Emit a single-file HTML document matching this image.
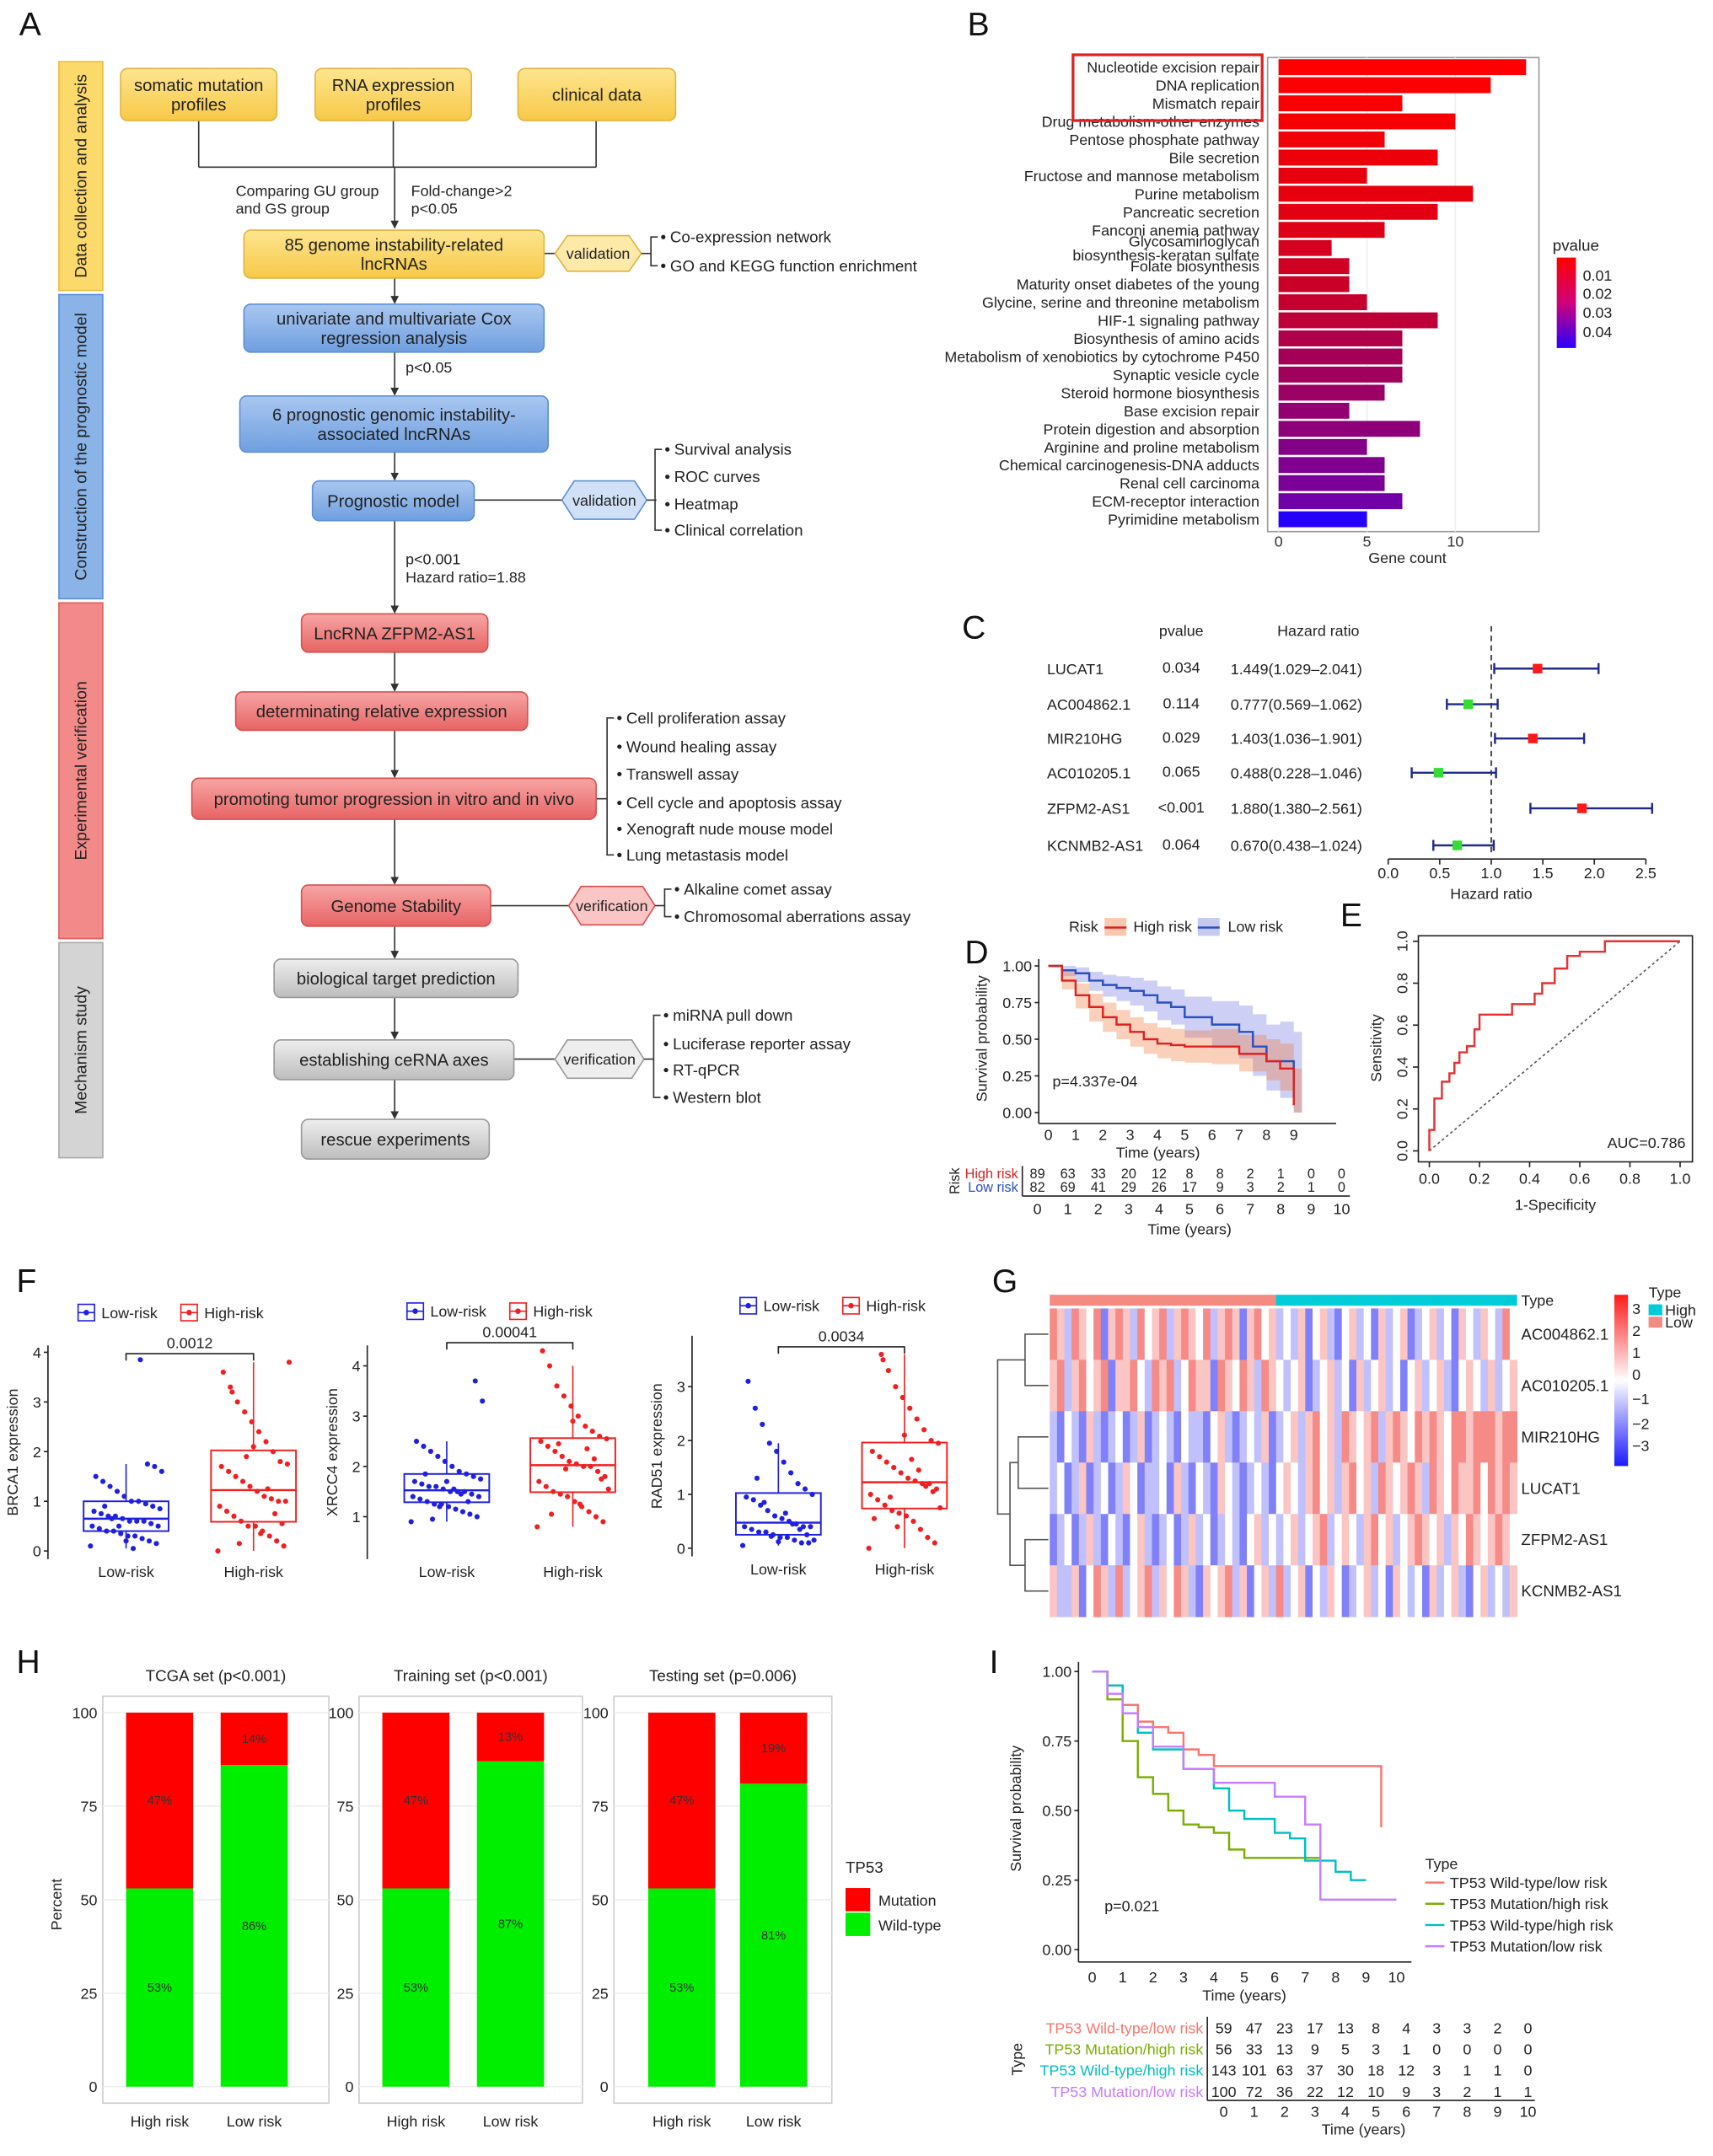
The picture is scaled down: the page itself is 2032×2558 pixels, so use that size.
<!DOCTYPE html>
<html><head><meta charset="utf-8"><title>Figure</title>
<style>
html,body{margin:0;padding:0;background:#fff;}
svg{display:block;font-family:"Liberation Sans",Arial,sans-serif;}
</style></head>
<body>
<svg id="fig" xmlns="http://www.w3.org/2000/svg" width="2032" height="2558" viewBox="0 0 1250 1573.6" preserveAspectRatio="none">
<defs>
<linearGradient id="gy" x1="0" y1="0" x2="0" y2="1"><stop offset="0" stop-color="#fde58f"/><stop offset="1" stop-color="#f7c948"/></linearGradient>
<linearGradient id="gb" x1="0" y1="0" x2="0" y2="1"><stop offset="0" stop-color="#a9c7f0"/><stop offset="1" stop-color="#6f9fe0"/></linearGradient>
<linearGradient id="gr" x1="0" y1="0" x2="0" y2="1"><stop offset="0" stop-color="#f7a5a5"/><stop offset="1" stop-color="#e86464"/></linearGradient>
<linearGradient id="gg" x1="0" y1="0" x2="0" y2="1"><stop offset="0" stop-color="#eeeeee"/><stop offset="1" stop-color="#bdbdbd"/></linearGradient>
<linearGradient id="pvgrad" x1="0" y1="0" x2="0" y2="1"><stop offset="0" stop-color="#ff0000"/><stop offset="0.5" stop-color="#d0007a"/><stop offset="1" stop-color="#2a00ff"/></linearGradient>
<linearGradient id="hmgrad" x1="0" y1="0" x2="0" y2="1"><stop offset="0" stop-color="#ff1a1a"/><stop offset="0.5" stop-color="#ffffff"/><stop offset="1" stop-color="#1a1aff"/></linearGradient>
<marker id="arr" markerWidth="6" markerHeight="6" refX="5" refY="3" orient="auto"><path d="M0,0 L6,3 L0,6 z" fill="#333"/></marker>
</defs>
</svg>
<script>
// ---------- DATA ----------
const keggCats = ["Nucleotide excision repair","DNA replication","Mismatch repair","Drug metabolism-other enzymes","Pentose phosphate pathway","Bile secretion","Fructose and mannose metabolism","Purine metabolism","Pancreatic secretion","Fanconi anemia pathway","Glycosaminoglycan|biosynthesis-keratan sulfate","Folate biosynthesis","Maturity onset diabetes of the young","Glycine, serine and threonine metabolism","HIF-1 signaling pathway","Biosynthesis of amino acids","Metabolism of xenobiotics by cytochrome P450","Synaptic vesicle cycle","Steroid hormone biosynthesis","Base excision repair","Protein digestion and absorption","Arginine and proline metabolism","Chemical carcinogenesis-DNA adducts","Renal cell carcinoma","ECM-receptor interaction","Pyrimidine metabolism"];
const keggCounts = [14,12,7,10,6,9,5,11,9,6,3,4,4,5,9,7,7,7,6,4,8,5,6,6,7,5];
const keggPvals = [0.002,0.003,0.003,0.004,0.005,0.006,0.007,0.007,0.008,0.009,0.011,0.012,0.013,0.014,0.016,0.019,0.021,0.022,0.023,0.025,0.026,0.028,0.029,0.030,0.032,0.048];
const keggTicks = [0,5,10];

const coxGenes = ["LUCAT1","AC004862.1","MIR210HG","AC010205.1","ZFPM2-AS1","KCNMB2-AS1"];
const coxPtxt = ["0.034","0.114","0.029","0.065","<0.001","0.064"];
const coxHR = [1.449,0.777,1.403,0.488,1.880,0.670];
const coxLo = [1.029,0.569,1.036,0.228,1.380,0.438];
const coxHi = [2.041,1.062,1.901,1.046,2.561,1.024];
const coxTicks = [0,0.5,1,1.5,2,2.5];

const kmHighT = [0,0.5,1,1.5,2,2.5,3,3.5,4,4.5,5,6,7,8,8.5,9];
const kmHighS = [1,0.9,0.8,0.72,0.65,0.6,0.55,0.5,0.47,0.46,0.45,0.45,0.4,0.35,0.3,0.05];
const kmHighUp = [1,0.96,0.88,0.81,0.75,0.7,0.65,0.61,0.58,0.57,0.56,0.57,0.53,0.5,0.47,0.3];
const kmHighLo = [1,0.84,0.71,0.62,0.55,0.5,0.45,0.4,0.37,0.35,0.34,0.33,0.28,0.22,0.15,0.0];
const kmLowT = [0,0.5,1,1.5,2,2.5,3,3.5,4,4.5,5,6,7,7.5,8,8.5,9];
const kmLowS = [1,0.97,0.95,0.9,0.87,0.85,0.83,0.8,0.75,0.72,0.65,0.6,0.55,0.45,0.35,0.35,0.2];
const kmLowUp = [1,1,0.99,0.96,0.94,0.93,0.92,0.9,0.86,0.84,0.79,0.76,0.73,0.67,0.6,0.62,0.55];
const kmLowLo = [1,0.93,0.89,0.83,0.79,0.76,0.73,0.69,0.63,0.6,0.51,0.44,0.37,0.25,0.15,0.1,0.0];
const riskHigh = [89,63,33,20,12,8,8,2,1,0,0];
const riskLow = [82,69,41,29,26,17,9,3,2,1,0];

const rocFpr = [0,0,0.02,0.02,0.05,0.05,0.08,0.1,0.12,0.15,0.18,0.2,0.3,0.33,0.42,0.45,0.5,0.55,0.6,0.7,1];
const rocTpr = [0,0.1,0.12,0.25,0.28,0.33,0.37,0.42,0.47,0.5,0.58,0.65,0.65,0.7,0.75,0.8,0.87,0.93,0.95,1,1];

const brcaLow = [0.1,0.15,0.2,0.25,0.3,0.3,0.35,0.4,0.4,0.45,0.5,0.5,0.55,0.6,0.6,0.6,0.65,0.7,0.7,0.75,0.8,0.85,0.9,0.95,1.0,1.0,1.1,1.2,1.3,1.4,1.5,1.6,1.7,1.75,3.85,0.05,0.2,0.5,0.65,0.9];
const brcaHigh = [0.0,0.1,0.2,0.3,0.4,0.5,0.5,0.6,0.7,0.8,0.9,1.0,1.0,1.05,1.1,1.2,1.3,1.4,1.5,1.6,1.7,1.75,1.8,2.0,2.2,2.4,2.6,2.8,3.0,3.3,3.6,3.8,0.55,0.75,1.25,0.35,2.1,1.9,0.15,3.2];
const xrccLow = [0.9,1.0,1.05,1.1,1.15,1.2,1.25,1.25,1.3,1.35,1.4,1.4,1.45,1.5,1.5,1.5,1.55,1.6,1.6,1.65,1.7,1.75,1.8,1.85,1.9,2.0,2.1,2.2,2.3,2.4,2.5,3.3,3.7,1.3,1.45,1.55,1.7,1.2,0.95,1.85];
const xrccHigh = [0.8,0.9,1.0,1.1,1.2,1.3,1.4,1.45,1.5,1.6,1.7,1.8,1.9,2.0,2.0,2.05,2.1,2.2,2.3,2.4,2.5,2.55,2.6,2.7,2.8,3.0,3.2,3.4,3.6,4.0,4.3,1.55,1.75,2.15,2.35,1.25,2.9,1.95,2.45,1.05];
const radLow = [0.05,0.1,0.1,0.15,0.2,0.2,0.25,0.3,0.3,0.35,0.4,0.4,0.4,0.45,0.5,0.55,0.6,0.7,0.8,0.9,0.95,1.0,1.1,1.2,1.4,1.6,1.8,1.95,2.3,2.6,3.1,0.15,0.25,0.35,0.45,0.65,0.12,0.22,0.85,1.3];
const radHigh = [0.0,0.1,0.2,0.35,0.5,0.6,0.65,0.7,0.8,0.9,1.0,1.1,1.2,1.2,1.25,1.3,1.4,1.5,1.6,1.7,1.8,1.95,2.0,2.2,2.4,2.6,2.8,3.0,3.3,3.6,0.55,0.75,1.05,1.15,1.45,1.65,2.1,0.4,0.95,3.5];

const hmGenes = ["AC004862.1","AC010205.1","MIR210HG","LUCAT1","ZFPM2-AS1","KCNMB2-AS1"];
const hmRow1 = [2,1,-1,2,1,0,2,-2,1,2,1,-1,2,0,1,2,-1,1,2,1,0,2,-1,1,2,1,-2,1,2,0,1,-1,0,-1,1,-2,0,1,-1,-2,0,1,-1,0,-2,1,-1,0,1,-2,-1,0,1,-1,0,-2,1,0,-1,1,0,-1,2,0];
const hmRow2 = [1,2,-1,1,2,0,1,2,-2,1,1,2,0,-1,2,1,2,-1,0,2,1,1,-2,2,1,0,2,1,-1,2,1,0,-1,0,1,-2,-1,0,1,-1,0,-2,1,-1,0,1,-1,0,-2,0,1,-1,0,1,-1,-2,0,1,0,-1,1,-1,0,1];
const hmRow3 = [-1,-2,0,-1,-2,1,-1,-2,-1,0,-2,-1,1,-2,-1,0,-1,-2,0,-1,-1,-2,0,1,-1,-2,-1,0,-1,1,-2,-1,0,1,-1,1,2,0,1,-1,2,1,0,1,2,-1,1,2,1,0,2,1,2,1,0,2,2,1,2,2,2,1,2,2];
const hmRow4 = [-1,0,-2,-1,1,-2,-1,0,-2,-1,1,0,-2,-1,-1,0,-2,1,-1,-2,0,-1,-2,1,0,-1,-2,-1,0,-1,-2,0,1,0,-1,1,2,0,1,-1,1,2,0,1,-1,2,1,0,1,2,1,-1,2,1,0,2,1,1,2,0,2,1,2,1];
const hmRow5 = [-2,-1,0,-2,-1,1,-1,-2,0,-1,-2,0,1,-1,-2,-1,0,-2,-1,1,-1,0,-2,-1,0,-1,-2,0,1,-1,0,-1,0,1,-1,0,1,2,-1,0,1,0,-1,1,2,0,1,-1,0,1,2,1,0,1,-1,1,0,2,1,0,1,2,1,0];
const hmRow6 = [1,-1,-1,1,-2,0,2,1,-1,2,-1,0,1,2,-1,1,0,2,1,-1,-2,1,0,1,2,-1,1,-2,0,1,-1,2,-1,0,1,-2,0,-1,1,0,-2,-1,0,1,-1,0,-2,1,0,-1,0,-2,1,-1,0,1,-1,-2,0,1,-1,0,-1,1];

const tp53Sets = ["TCGA set (p<0.001)","Training set (p<0.001)","Testing set (p=0.006)"];
const tp53MutHigh = [47,47,47];
const tp53MutLow = [14,13,19];
const pctTicks = [0,25,50,75,100];

const iWLT = [0,0.5,1,1.5,2,2.5,3,3.5,4,9,9.5];
const iWLS = [1,0.95,0.88,0.82,0.8,0.78,0.72,0.7,0.66,0.66,0.44];
const iMHT = [0,0.5,1,1.5,2,2.5,3,3.5,4,4.5,5,6,7,7.5];
const iMHS = [1,0.9,0.75,0.62,0.56,0.5,0.45,0.44,0.42,0.36,0.33,0.33,0.33,0.33];
const iWHT = [0,0.5,1,1.5,2,3,4,4.5,5,6,6.5,7,8,8.5,9];
const iWHS = [1,0.95,0.85,0.78,0.72,0.65,0.58,0.5,0.47,0.42,0.4,0.32,0.28,0.25,0.25];
const iMLT = [0,0.5,1,1.5,2,3,4,5,6,7,7.5,9,10];
const iMLS = [1,0.92,0.85,0.8,0.73,0.65,0.6,0.6,0.55,0.45,0.18,0.18,0.18];
const iRiskWL = [59,47,23,17,13,8,4,3,3,2,0];
const iRiskMH = [56,33,13,9,5,3,1,0,0,0,0];
const iRiskWH = [143,101,63,37,30,18,12,3,1,1,0];
const iRiskML = [100,72,36,22,12,10,9,3,2,1,1];

// ---------- HELPERS ----------
const NS='http://www.w3.org/2000/svg';
const svg=document.getElementById('fig');
function el(tag,a,parent,content){const e=document.createElementNS(NS,tag);for(const k in a)e.setAttribute(k,a[k]);if(content!==undefined)e.textContent=content;(parent||svg).appendChild(e);return e;}
function T(x,y,s,size,anchor,fill,extra){const a=Object.assign({x:x,y:y,'font-size':size||11,'text-anchor':anchor||'start',fill:fill||'#222'},extra||{});return el('text',a,null,s);}
function G(name){const g=el('g',{});


return g;}

// Panel letters
const letters=[["A",14,26],["B",706,26],["C",702,466],["D",704,703],["E",978,676],["F",12,943],["G",724,943],["H",12,1221],["I",722,1221]];
letters.forEach(l=>{const t=T(l[1],l[2],l[0],24,'start','#111');

});

// ---------- PANEL A ----------
(function(){
const g=G('panel-a-flowchart');
const side=[[45,212,'#fcd96b','#e8bd3a','Data collection and analysis'],[215,437,'#8ab4e8','#5d8fd6','Construction of the prognostic model'],[440,685,'#f28a8a','#e06060','Experimental verification'],[688,845,'#d4d4d4','#aaaaaa','Mechanism study']];
side.forEach(s=>{const r=el('rect',{x:43,y:s[0],width:32,height:s[1]-s[0],fill:s[2],stroke:s[3]},g);


const cy=(s[0]+s[1])/2;el('text',{x:59,y:cy+4,'font-size':12,'text-anchor':'middle',fill:'#222',transform:`rotate(-90 59 ${cy})`},g,s[4]);});
const fills={y:['url(#gy)','#e0b440'],b:['url(#gb)','#5d8fd6'],r:['url(#gr)','#d85050'],g:['url(#gg)','#999']};
// lines
const L=(d)=>el('path',{d:d,stroke:'#333','stroke-width':1,fill:'none'},g);
L('M145,88V122M287,88V122M435,88V122M145,122H435');
el('path',{d:'M288,122V166',stroke:'#333',fill:'none','marker-end':'url(#arr)'},g);
[[203,221],[257,288],[330,350],[380,447],[476,504],[533,567],[598,645],[676,699],[728,758],[788,816]].forEach(p=>el('path',{d:`M288,${p[0]}V${p[1]}`,stroke:'#333',fill:'none','marker-end':'url(#arr)'},g));
T(172,143,'Comparing GU group',11);T(172,156,'and GS group',11);T(300,143,'Fold-change>2',11);T(300,156,'p<0.05',11);
T(296,272,'p<0.05',11);T(296,412,'p<0.001',11);T(296,425,'Hazard ratio=1.88',11);
const boxes=[[88,50,114,38,'y',['somatic mutation','profiles']],[230,50,114,38,'y',['RNA expression','profiles']],[378,50,115,38,'y',['clinical data']],[178,168,219,35,'y',['85 genome instability-related','lncRNAs']],[178,222,219,35,'b',['univariate and multivariate Cox','regression analysis']],[175,289,225,41,'b',['6 prognostic genomic instability-','associated lncRNAs']],[228,351,118,29,'b',['Prognostic model']],[220,448,136,28,'r',['LncRNA ZFPM2-AS1']],[172,505,213,28,'r',['determinating relative expression']],[140,568,295,30,'r',['promoting tumor progression in vitro and in vivo']],[220,646,138,30,'r',['Genome Stability']],[200,700,178,28,'g',['biological target prediction']],[200,759,175,29,'g',['establishing ceRNA axes']],[220,817,137,29,'g',['rescue experiments']]];
// connectors to hexagons
L('M397,185H405M346,365H410M358,661H415M375,773H405M435,583H443');
const hexes=[[405,172,63,26,'#fde9a8','#e0b440','validation'],[410,351,62,28,'#cfe0f7','#5d8fd6','validation'],[415,647,63,28,'#f9c5c5','#d85050','verification'],[405,759,65,28,'#eeeeee','#999','verification']];
hexes.forEach(h=>{const [x,y,w,hh]=h;const p=el('polygon',{points:`${x},${y+hh/2} ${x+9},${y} ${x+w-9},${y} ${x+w},${y+hh/2} ${x+w-9},${y+hh} ${x+9},${y+hh}`,fill:h[4],stroke:h[5]},g);


el('text',{x:x+w/2,y:y+hh/2+4,'font-size':11,'text-anchor':'middle',fill:'#222'},g,h[6]);
L(`M${x+w},${y+hh/2}H${x+w+7}`);});
boxes.forEach(b=>{const [x,y,w,h,c,lines]=b;const r=el('rect',{x:x,y:y,width:w,height:h,rx:5,fill:fills[c][0],stroke:fills[c][1]},g);


const n=lines.length;lines.forEach((s,i)=>el('text',{x:x+w/2,y:y+h/2+4.5+(i-(n-1)/2)*14,'font-size':12.5,'text-anchor':'middle',fill:'#222'},g,s));});
const bl=[[475,[176,197],['Co-expression network','GO and KEGG function enrichment']],[478,[331,351,371,390],['Survival analysis','ROC curves','Heatmap','Clinical correlation']],[443,[527,548,568,589,608,627],['Cell proliferation assay','Wound healing assay','Transwell assay','Cell cycle and apoptosis assay','Xenograft nude mouse model','Lung metastasis model']],[485,[652,672],['Alkaline comet assay','Chromosomal aberrations assay']],[477,[744,765,784,804],['miRNA pull down','Luciferase reporter assay','RT-qPCR','Western blot']]];
bl.forEach(b=>{const x=b[0],ys=b[1];L(`M${x+5},${ys[0]-3}H${x}V${ys[ys.length-1]-3}H${x+5}`);ys.forEach((y,i)=>{el('circle',{cx:x+9,cy:y-3,r:1.6,fill:'#222'},g);const t=el('text',{x:x+14,y:y+1,'font-size':11.5,fill:'#222'},g,b[2][i]);

});});
})();

// ---------- PANEL B ----------
(function(){
const g=G('panel-b-kegg-bar-chart');
const x0=933,px=12.9,y0=49,dy=13.2;const xs=v=>x0+v*px;
el('rect',{x:925,y:42,width:198,height:346,fill:'#fff',stroke:'#999'},g);
keggTicks.forEach(t=>{el('line',{x1:xs(t),x2:xs(t),y1:42,y2:388,stroke:'#eee'},g);el('text',{x:xs(t),y:399,'font-size':11,'text-anchor':'middle',fill:'#333'},g,String(t));});
function pcol(p){const f=Math.min(1,Math.max(0,(p-0.002)/0.046));const r=Math.round(255*(1-f*0.85)),b=Math.round(255*Math.pow(f,1.6));const gg=0;return `rgb(${r},${gg},${Math.min(255,b+Math.round(60*f))})`;}
keggCats.forEach((c,i)=>{const y=y0+i*dy;const r=el('rect',{x:x0,y:y-5.8,width:keggCounts[i]*px,height:11.6,fill:pcol(keggPvals[i])},g);


const parts=c.split('|');if(parts.length==2){el('text',{x:919,y:y-1,'font-size':11,'text-anchor':'end',fill:'#222'},g,parts[0]);el('text',{x:919,y:y+9,'font-size':11,'text-anchor':'end',fill:'#222'},g,parts[1]);}else el('text',{x:919,y:y+4,'font-size':11,'text-anchor':'end',fill:'#222'},g,c);});
el('text',{x:1027,y:411,'font-size':11,'text-anchor':'middle',fill:'#222'},g,'Gene count');
const hb=el('rect',{x:783,y:40,width:138,height:48,fill:'none',stroke:'#e02020','stroke-width':2},g);


el('text',{x:1133,y:183,'font-size':11.5,fill:'#222'},g,'pvalue');
el('rect',{x:1136,y:188,width:14,height:66,fill:'url(#pvgrad)'},g);
[['0.01',201],['0.02',214],['0.03',228],['0.04',242]].forEach(l=>el('text',{x:1155,y:l[1]+4,'font-size':11,fill:'#222'},g,l[0]));
})();

// ---------- PANEL C ----------
(function(){
const g=G('panel-c-forest-plot');
const xs=v=>1013+v*75.2;const rows=[488,514,539,564,590,617];
el('text',{x:862,y:464,'font-size':11,'text-anchor':'middle',fill:'#222'},g,'pvalue');
el('text',{x:962,y:464,'font-size':11,'text-anchor':'middle',fill:'#222'},g,'Hazard ratio');
el('line',{x1:xs(1),x2:xs(1),y1:457,y2:625,stroke:'#222','stroke-dasharray':'4,3'},g);
el('line',{x1:xs(0),x2:xs(2.5),y1:627,y2:627,stroke:'#222'},g);
coxTicks.forEach(t=>{el('line',{x1:xs(t),x2:xs(t),y1:627,y2:631,stroke:'#222'},g);el('text',{x:xs(t),y:641,'font-size':11,'text-anchor':'middle',fill:'#222'},g,t.toFixed(1));});
el('text',{x:xs(1),y:656,'font-size':11,'text-anchor':'middle',fill:'#222'},g,'Hazard ratio');
coxGenes.forEach((n,i)=>{const y=rows[i];
el('text',{x:764,y:y+4,'font-size':11,fill:'#222'},g,n);
el('text',{x:862,y:y+3,'font-size':11,'text-anchor':'middle',fill:'#222'},g,coxPtxt[i]);
el('text',{x:898,y:y+4,'font-size':11,fill:'#222'},g,`${coxHR[i].toFixed(3)}(${coxLo[i].toFixed(3)}–${coxHi[i].toFixed(3)})`);
el('path',{d:`M${xs(coxLo[i])},${y-4}V${y+4}M${xs(coxLo[i])},${y}H${xs(coxHi[i])}M${xs(coxHi[i])},${y-4}V${y+4}`,stroke:'#1f2a8a','stroke-width':1.5,fill:'none'},g);
const d=el('rect',{x:xs(coxHR[i])-3.5,y:y-3.5,width:7,height:7,fill:coxHR[i]>1?'#ff1a1a':'#33dd33'},g);

});
})();

function stepD(ts,ss,xs,ys){let d=`M${xs(ts[0])},${ys(ss[0])}`;for(let i=1;i<ts.length;i++)d+=`H${xs(ts[i])}V${ys(ss[i])}`;return d;}
function bandD(ts,up,lo,xs,ys){let d=`M${xs(ts[0])},${ys(up[0])}`;for(let i=1;i<ts.length;i++)d+=`H${xs(ts[i])}V${ys(up[i])}`;const last=ts[ts.length-1]+0.3;d+=`H${xs(last)}V${ys(lo[lo.length-1])}`;for(let i=ts.length-1;i>0;i--)d+=`H${xs(ts[i])}V${ys(lo[i-1])}`;d+=`H${xs(ts[0])}Z`;return d;}

// ---------- PANEL D ----------
(function(){
const g=G('panel-d-km-risk');
const xs=t=>765+t*19.9, ys=s=>812-s*107;
el('line',{x1:758,x2:758,y1:700,y2:820,stroke:'#222'},g);el('line',{x1:758,x2:975,y1:820,y2:820,stroke:'#222'},g);
[1,0.75,0.5,0.25,0].forEach(v=>{el('text',{x:753,y:ys(v)+4,'font-size':11,'text-anchor':'end',fill:'#222'},g,v.toFixed(2));el('line',{x1:755,x2:758,y1:ys(v),y2:ys(v),stroke:'#222'},g);});
for(let t=0;t<=9;t++){el('text',{x:xs(t),y:832,'font-size':11,'text-anchor':'middle',fill:'#222'},g,String(t));}
el('text',{x:845,y:845,'font-size':11,'text-anchor':'middle',fill:'#222'},g,'Time (years)');
el('text',{x:720,y:758,'font-size':11,'text-anchor':'middle',fill:'#222',transform:'rotate(-90 720 758)'},g,'Survival probability');
el('path',{d:bandD(kmLowT,kmLowUp,kmLowLo,xs,ys),fill:'rgba(90,100,220,0.3)'},g);
el('path',{d:bandD(kmHighT,kmHighUp,kmHighLo,xs,ys),fill:'rgba(240,120,60,0.35)'},g);
const lb=el('path',{d:stepD(kmLowT,kmLowS,xs,ys),stroke:'#2a4fc0','stroke-width':1.5,fill:'none'},g);


const hr=el('path',{d:stepD(kmHighT,kmHighS,xs,ys),stroke:'#e02020','stroke-width':1.5,fill:'none'},g);


el('text',{x:768,y:793,'font-size':11,fill:'#222'},g,'p=4.337e-04');
el('text',{x:780,y:680,'font-size':11,fill:'#222'},g,'Risk');
el('rect',{x:806,y:670,width:16,height:13,fill:'#f7c9b0'},g);el('line',{x1:806,x2:822,y1:677,y2:677,stroke:'#e02020','stroke-width':1.5},g);
el('text',{x:827,y:680,'font-size':11,fill:'#222'},g,'High risk');
el('rect',{x:874,y:670,width:16,height:13,fill:'#c5c9ee'},g);el('line',{x1:874,x2:890,y1:677,y2:677,stroke:'#2a4fc0','stroke-width':1.5},g);
el('text',{x:896,y:680,'font-size':11,fill:'#222'},g,'Low risk');
const tx=i=>757+i*22.2;
el('text',{x:743,y:860,'font-size':10,'text-anchor':'end',fill:'#e02020'},g,'High risk');
el('text',{x:743,y:870,'font-size':10,'text-anchor':'end',fill:'#2a4fc0'},g,'Low risk');
el('text',{x:700,y:862,'font-size':10,'text-anchor':'middle',fill:'#222',transform:'rotate(-90 700 862)'},g,'Risk');
el('line',{x1:746,x2:746,y1:851,y2:873,stroke:'#222'},g);el('line',{x1:746,x2:985,y1:873,y2:873,stroke:'#222'},g);
riskHigh.forEach((v,i)=>el('text',{x:tx(i),y:860,'font-size':10,'text-anchor':'middle',fill:'#222'},g,String(v)));
riskLow.forEach((v,i)=>el('text',{x:tx(i),y:870,'font-size':10,'text-anchor':'middle',fill:'#222'},g,String(v)));
for(let i=0;i<=10;i++)el('text',{x:tx(i),y:886,'font-size':11,'text-anchor':'middle',fill:'#222'},g,String(i));
el('text',{x:868,y:901,'font-size':11,'text-anchor':'middle',fill:'#222'},g,'Time (years)');
})();

// ---------- PANEL E ----------
(function(){
const g=G('panel-e-roc');
const xs=v=>1043+v*183, ys=v=>840-v*153;
el('rect',{x:1035,y:683,width:200,height:165,fill:'none',stroke:'#222'},g);
el('line',{x1:xs(0),y1:ys(0),x2:xs(1),y2:ys(1),stroke:'#555','stroke-dasharray':'2,2'},g);
let d=`M${xs(rocFpr[0])},${ys(rocTpr[0])}`;for(let i=1;i<rocFpr.length;i++)d+=`H${xs(rocFpr[i])}V${ys(rocTpr[i])}`;
const c=el('path',{d:d,stroke:'#e83030','stroke-width':1.5,fill:'none'},g);


[0,0.2,0.4,0.6,0.8,1].forEach(v=>{el('line',{x1:xs(v),x2:xs(v),y1:848,y2:852,stroke:'#222'},g);el('text',{x:xs(v),y:864,'font-size':11,'text-anchor':'middle',fill:'#222'},g,v.toFixed(1));
el('line',{x1:1031,x2:1035,y1:ys(v),y2:ys(v),stroke:'#222'},g);el('text',{x:1027,y:ys(v),'font-size':11,'text-anchor':'middle',fill:'#222',transform:`rotate(-90 1027 ${ys(v)})`},g,v.toFixed(1));});
el('text',{x:1135,y:883,'font-size':11,'text-anchor':'middle',fill:'#222'},g,'1-Specificity');
el('text',{x:1008,y:765,'font-size':11,'text-anchor':'middle',fill:'#222',transform:'rotate(-90 1008 765)'},g,'Sensitivity');
el('text',{x:1230,y:838,'font-size':11,'text-anchor':'end',fill:'#222'},g,'AUC=0.786');
})();

// ---------- PANEL F ----------
function quant(a,q){const s=[...a].sort((x,y)=>x-y);const p=(s.length-1)*q;const l=Math.floor(p),h=Math.ceil(p);return s[l]+(s[h]-s[l])*(p-l);}
function boxPanel(name,lowArr,highArr,cfg){
const g=G(name);
const ys=v=>cfg.y0-v*cfg.py;
el('line',{x1:cfg.ax,x2:cfg.ax,y1:cfg.top,y2:cfg.bot,stroke:'#222'},g);
cfg.ticks.forEach(t=>{el('line',{x1:cfg.ax-3,x2:cfg.ax,y1:ys(t),y2:ys(t),stroke:'#222'},g);el('text',{x:cfg.ax-5,y:ys(t)+4,'font-size':11,'text-anchor':'end',fill:'#222'},g,String(t));});
el('text',{x:cfg.ax-22,y:(cfg.top+cfg.bot)/2,'font-size':11,'text-anchor':'middle',fill:'#222',transform:`rotate(-90 ${cfg.ax-22} ${(cfg.top+cfg.bot)/2})`},g,cfg.label);
[[lowArr,cfg.gx[0],'#2020e0','Low-risk'],[highArr,cfg.gx[1],'#f02020','High-risk']].forEach(([arr,cx,col,lab])=>{
const q1=quant(arr,0.25),md=quant(arr,0.5),q3=quant(arr,0.75),iq=q3-q1;
const inn=arr.filter(v=>v>=q1-1.5*iq&&v<=q3+1.5*iq);const wlo=Math.min(...inn),whi=Math.max(...inn);
el('path',{d:`M${cx},${ys(whi)}V${ys(q3)}M${cx},${ys(q1)}V${ys(wlo)}`,stroke:col,fill:'none'},g);
const b=el('rect',{x:cx-31,y:ys(q3),width:62,height:ys(q1)-ys(q3),fill:'none',stroke:col,'stroke-width':1.2},g);


el('line',{x1:cx-31,x2:cx+31,y1:ys(md),y2:ys(md),stroke:col,'stroke-width':1.5},g);
arr.forEach((v,i)=>{const jx=((i*37)%41-20)/20*26;el('circle',{cx:cx+jx,cy:ys(v),r:1.9,fill:col},g);});
el('text',{x:cx,y:cfg.bot+13,'font-size':11,'text-anchor':'middle',fill:'#222'},g,lab);});
el('path',{d:`M${cfg.gx[0]},${cfg.py2+5}V${cfg.py2}H${cfg.gx[1]}V${cfg.py2+5}`,stroke:'#222',fill:'none'},g);
el('text',{x:(cfg.gx[0]+cfg.gx[1])/2,y:cfg.py2-4,'font-size':11,'text-anchor':'middle',fill:'#222'},g,cfg.p);
const lx=cfg.lx,ly=cfg.ly;
[[lx,'#2020e0','Low-risk'],[lx+75,'#f02020','High-risk']].forEach(([x,col,lab])=>{el('rect',{x:x,y:ly-6,width:12,height:12,fill:'none',stroke:col},g);el('line',{x1:x,x2:x+12,y1:ly,y2:ly,stroke:col},g);el('circle',{cx:x+6,cy:ly,r:2,fill:col},g);el('text',{x:x+17,y:ly+4,'font-size':11,fill:'#222'},g,lab);});
}
boxPanel('panel-f-brca1-boxplot',brcaLow,brcaHigh,{ax:35,top:982,bot:1138,y0:1132,py:36.25,ticks:[0,1,2,3,4],label:'BRCA1 expression',gx:[92,185],py2:988,p:'0.0012',lx:57,ly:958});
boxPanel('panel-f-xrcc4-boxplot',xrccLow,xrccHigh,{ax:268,top:982,bot:1138,y0:1143.7,py:36.7,ticks:[1,2,3,4],label:'XRCC4 expression',gx:[326,418],py2:980,p:'0.00041',lx:297,ly:957});
boxPanel('panel-f-rad51-boxplot',radLow,radHigh,{ax:505,top:975,bot:1136,y0:1130,py:39.3,ticks:[0,1,2,3],label:'RAD51 expression',gx:[568,660],py2:983,p:'0.0034',lx:540,ly:953});

// ---------- PANEL G ----------
(function(){
const g=G('panel-g-heatmap');
const rows=[hmRow1,hmRow2,hmRow3,hmRow4,hmRow5,hmRow6];
const x0=766,x1=1107,y0=955,rh=37.5;
el('rect',{x:x0,y:945,width:165,height:8,fill:'#f58a80'},g);
el('rect',{x:931,y:945,width:x1-931,height:8,fill:'#00ccd8'},g);
el('text',{x:1110,y:953,'font-size':11,fill:'#222'},g,'Type');
function hc(v){const f=Math.min(1,Math.abs(v)/3);if(v>=0){return `rgb(${255-Math.round(15*f)},${Math.round(255-175*f)},${Math.round(255-180*f)})`;}return `rgb(${Math.round(255-190*f)},${Math.round(255-190*f)},${255-Math.round(10*f)})`;}
rows.forEach((row,r)=>{const w=(x1-x0)/row.length;row.forEach((v,c)=>{const cell=el('rect',{x:x0+c*w,y:y0+r*rh,width:w+0.3,height:rh+0.3,fill:hc(v)},g);

});
el('text',{x:1110,y:y0+r*rh+rh/2+4,'font-size':11.5,fill:'#222'},g,hmGenes[r]);});
const cy=r=>y0+r*rh+rh/2;
el('path',{d:`M765,${cy(0)}H748V${cy(1)}H765M765,${cy(2)}H743V${cy(3)}H765M765,${cy(4)}H748V${cy(5)}H765M743,${(cy(2)+cy(3))/2}H737V${(cy(4)+cy(5))/2}H748M748,${(cy(0)+cy(1))/2}H728V${((cy(2)+cy(3))/2+(cy(4)+cy(5))/2)/2}H737`,stroke:'#555',fill:'none'},g);
el('rect',{x:1178,y:945,width:10,height:125,fill:'url(#hmgrad)'},g);
[['3',955],['2',971],['1',987],['0',1003],['−1',1021],['−2',1039],['−3',1055]].forEach(l=>el('text',{x:1191,y:l[1]+4,'font-size':11,fill:'#222'},g,l[0]));
el('text',{x:1203,y:947,'font-size':11,fill:'#222'},g,'Type');
el('rect',{x:1203,y:952,width:10,height:8,fill:'#00ccd8'},g);el('text',{x:1215,y:960,'font-size':11,fill:'#222'},g,'High');
el('rect',{x:1203,y:961,width:10,height:8,fill:'#f58a80'},g);el('text',{x:1215,y:969,'font-size':11,fill:'#222'},g,'Low');
})();

// ---------- PANEL H ----------
(function(){
const g=G('panel-h-tp53-stacked-bars');
const panels=[[75,240,[92,161]],[262,425,[279,348]],[448,607,[473,540]]];
const ys=v=>1523-v*2.73;
panels.forEach((p,k)=>{const [l,r,bx]=p;
el('rect',{x:l,y:1238,width:r-l,height:297,fill:'#fff',stroke:'#ccc'},g);
pctTicks.forEach(t=>{el('line',{x1:l,x2:r,y1:ys(t),y2:ys(t),stroke:'#eee'},g);el('text',{x:l-4,y:ys(t)+4,'font-size':11,'text-anchor':'end',fill:'#222'},g,String(t));});
el('text',{x:(l+r)/2,y:1227,'font-size':11.5,'text-anchor':'middle',fill:'#222'},g,tp53Sets[k]);
[[tp53MutHigh[k],bx[0],'High risk'],[tp53MutLow[k],bx[1],'Low risk']].forEach(([m,x,lab])=>{
const w=el('rect',{x:x,y:ys(100-m),width:49,height:ys(0)-ys(100-m),fill:'#00ee00'},g);


const mu=el('rect',{x:x,y:ys(100),width:49,height:ys(100-m)-ys(100),fill:'#ff0000'},g);


el('text',{x:x+24.5,y:ys(100-m/2)+3,'font-size':9,'text-anchor':'middle',fill:'#333'},g,m+'%');
el('text',{x:x+24.5,y:ys((100-m)/2)+3,'font-size':9,'text-anchor':'middle',fill:'#333'},g,(100-m)+'%');
el('text',{x:x+24.5,y:1552,'font-size':11,'text-anchor':'middle',fill:'#222'},g,lab);});});
el('text',{x:45,y:1390,'font-size':11,'text-anchor':'middle',fill:'#222',transform:'rotate(-90 45 1390)'},g,'Percent');
el('text',{x:617,y:1367,'font-size':11.5,fill:'#222'},g,'TP53');
el('rect',{x:617,y:1378,width:18,height:17,fill:'#ff0000'},g);el('text',{x:641,y:1391,'font-size':11,fill:'#222'},g,'Mutation');
el('rect',{x:617,y:1396,width:18,height:17,fill:'#00ee00'},g);el('text',{x:641,y:1409,'font-size':11,fill:'#222'},g,'Wild-type');
})();

// ---------- PANEL I ----------
(function(){
const g=G('panel-i-km-tp53');
const xs=t=>797+t*22.2, ys=s=>1423-s*203;
el('line',{x1:787,x2:787,y1:1213,y2:1432,stroke:'#222'},g);el('line',{x1:787,x2:1030,y1:1432,y2:1432,stroke:'#222'},g);
[1,0.75,0.5,0.25,0].forEach(v=>{el('text',{x:782,y:ys(v)+4,'font-size':11,'text-anchor':'end',fill:'#222'},g,v.toFixed(2));el('line',{x1:784,x2:787,y1:ys(v),y2:ys(v),stroke:'#222'},g);});
for(let t=0;t<=10;t++)el('text',{x:xs(t),y:1447,'font-size':11,'text-anchor':'middle',fill:'#222'},g,String(t));
el('text',{x:908,y:1460,'font-size':11,'text-anchor':'middle',fill:'#222'},g,'Time (years)');
el('text',{x:745,y:1320,'font-size':11,'text-anchor':'middle',fill:'#222',transform:'rotate(-90 745 1320)'},g,'Survival probability');
const ser=[[iWLT,iWLS,'#f8766d','TP53 Wild-type/low risk',iRiskWL],[iMHT,iMHS,'#7cae00','TP53 Mutation/high risk',iRiskMH],[iWHT,iWHS,'#00bfc4','TP53 Wild-type/high risk',iRiskWH],[iMLT,iMLS,'#c77cff','TP53 Mutation/low risk',iRiskML]];
ser.forEach((s,k)=>{const p=el('path',{d:stepD(s[0],s[1],xs,ys),stroke:s[2],'stroke-width':1.5,fill:'none'},g);


const ly=1377+k*15.5;el('line',{x1:1040,x2:1054,y1:ly-3,y2:ly-3,stroke:s[2],'stroke-width':1.5},g);
el('text',{x:1058,y:ly+1,'font-size':11,fill:'#222'},g,s[3]);
const ry=1484+k*15.5;el('text',{x:878,y:ry,'font-size':11,'text-anchor':'end',fill:s[2]},g,s[3]);
s[4].forEach((v,i)=>el('text',{x:893+i*22.2,y:ry,'font-size':11,'text-anchor':'middle',fill:'#222'},g,String(v)));});
el('text',{x:1040,y:1364,'font-size':11,fill:'#222'},g,'Type');
el('text',{x:806,y:1395,'font-size':11,fill:'#222'},g,'p=0.021');
el('line',{x1:881,x2:881,y1:1472,y2:1533,stroke:'#222'},g);el('line',{x1:881,x2:1120,y1:1533,y2:1533,stroke:'#222'},g);
for(let i=0;i<=10;i++)el('text',{x:893+i*22.2,y:1545,'font-size':11,'text-anchor':'middle',fill:'#222'},g,String(i));
el('text',{x:995,y:1558,'font-size':11,'text-anchor':'middle',fill:'#222'},g,'Time (years)');
el('text',{x:746,y:1503,'font-size':11,'text-anchor':'middle',fill:'#222',transform:'rotate(-90 746 1503)'},g,'Type');
})();
</script>
</body></html>
